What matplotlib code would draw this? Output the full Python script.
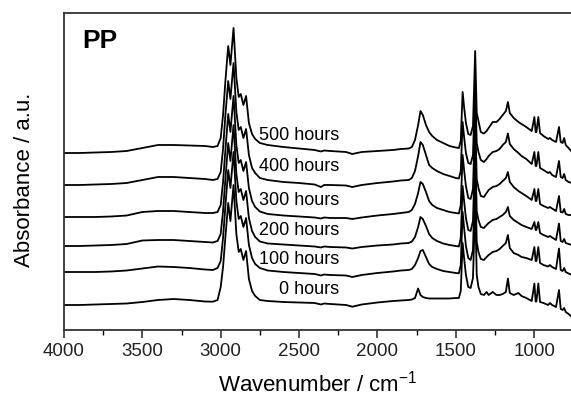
import numpy as np
import matplotlib
matplotlib.use("Agg")
import matplotlib.pyplot as plt
from matplotlib.ticker import MultipleLocator, NullLocator

plt.rcParams['font.family'] = ['Liberation Sans', 'DejaVu Sans']
plt.rcParams['mathtext.fontset'] = 'custom'
plt.rcParams['mathtext.rm'] = 'Liberation Sans'
plt.rcParams['mathtext.it'] = 'Liberation Sans:italic'

# wavenumber grid (cm-1), shared by all spectra
wavenumber = [4000, 3900, 3800, 3700, 3600, 3500, 3400, 3300, 3200, 3100, 3050,
              3020, 3000, 2985, 2970, 2952, 2938, 2918, 2900, 2885, 2872, 2855, 2838, 2820, 2800, 2780, 2750,
              2700, 2600, 2500, 2400, 2360, 2340, 2300, 2200, 2160, 2100, 2000, 1900, 1850, 1800,
              1780, 1760, 1740, 1725, 1710, 1690, 1670, 1650, 1620, 1580, 1540, 1500, 1480,
              1468, 1456, 1446, 1435, 1420, 1405, 1390, 1376, 1366, 1355, 1340, 1320,
              1303, 1290, 1264, 1240, 1220, 1200, 1180, 1167, 1155, 1130, 1100, 1080, 1050, 1015,
              998, 990, 985, 973, 962, 940, 910, 899, 885, 860, 841, 830, 818, 808, 798, 780, 758]

# absorbance (a.u.), relative to each spectrum's value at 4000 cm-1
abs_0h = [0, 0, 0.5, 1, 1.5, 3, 5, 6, 5, 3.5, 3.3,
          5, 18, 38, 68, 102, 84, 120, 71, 53, 56, 45, 54, 26, 14, 9, 5,
          4, 3, 2.5, 2, 0.5, 1.5, 1, 0, -1.7, 0.5, 2.5, 4, 4.5, 5,
          5.5, 7, 16.5, 10, 8, 7, 6.5, 6.5, 6.5, 6.5, 6.5, 7, 7,
          14, 62, 46, 30, 18, 17, 27, 100, 30, 18, 11, 10,
          13, 10, 13, 10, 10, 11, 13, 26.5, 12, 10, 12, 9, 7, 4,
          21.5, 3.5, 3.5, 21.5, 3, 2, 0, 2, 0, -2, 15, -4, -5, -3, -7, -9, -12]
abs_100h = [0, 0, 0, 0.5, 1.5, 3.5, 5.5, 5, 4, 2.5, 2,
            4, 11, 34, 66, 102, 84, 120, 71, 53, 56, 45, 54, 27, 14, 8, 4,
            1.5, 0, -1, -2, -3.5, -2.5, -3, -3.5, -5, -3, -1, 0.5, 1.5, 2,
            3, 7, 14, 21, 22, 15, 8, 5, 3, 1, 0, -1, -1.3,
            7, 60, 43, 26, 14, 12, 22, 100, 30, 20, 13, 12,
            15, 17, 20, 21, 23, 26, 29, 37, 24, 19, 17, 15, 14, 12,
            25, 11, 11, 25, 9, 7, 5.5, 7, 5, 3, 23.5, 2, 1, 4, 0, -1.5, -3]
abs_200h = [0, 0, 0.5, 1, 2, 5.5, 6, 6, 5, 4, 3.5,
            5, 12, 35, 67, 103, 85, 121, 72, 54, 57, 46, 55, 28, 15, 9, 4.5,
            2.5, 1.5, 0.5, -0.5, -1.5, -0.5, -1, -1.5, -2.5, -1, 0.5, 1.5, 2.5, 3,
            4.5, 9, 19, 29, 27, 20, 12, 8, 5, 2.5, 1, 0, -0.5,
            8, 60, 44, 28, 16, 15, 25, 100, 35, 26, 19, 18,
            21, 23, 26, 27, 29, 31, 34, 39, 30, 26, 23, 21, 19, 17,
            24, 16, 16, 24, 13, 11, 9, 10, 8.5, 6, 22.5, 5, 4, 7, 3, 2, 1]
abs_300h = [0, 0, 0, 0.5, 1.5, 5, 6, 6, 5, 4, 4,
            5, 12, 35, 67, 103, 85, 121, 72, 54, 57, 46, 55, 29, 16, 10, 5.5,
            3, 1.5, 0.5, -0.5, -1.5, -0.5, -1, -1, -2, -0.5, 1.5, 3, 4, 5,
            7, 13, 24, 35, 33, 25, 16, 12, 9, 7, 5, 4, 3.5,
            12, 62, 46, 31, 19, 18, 28, 101, 38, 29, 21, 20,
            24, 27, 30, 31, 33, 36, 39, 45, 35, 30, 26, 24, 21, 17,
            28, 16, 16, 28, 13, 11, 9, 10, 8.5, 6, 21, 5, 4.5, 8, 3, 2, 2]
abs_400h = [0, 0, 0.5, 1, 2, 5, 8, 8, 7, 6, 5,
            6, 13, 36, 70, 104, 86, 122, 73, 55, 58, 47, 56, 30, 17, 12, 7,
            5, 3, 2, 0.5, -2, 0, 0, -0.5, -2, 0, 2, 3.5, 4.5, 5,
            7, 14, 29, 43, 40, 30, 20, 17, 14, 11, 9, 7, 6.5,
            14, 63, 47, 32, 22, 21, 30, 102, 42, 33, 25, 23,
            26, 29, 33, 34, 36, 40, 43, 51.5, 41, 36, 32, 29, 26, 21,
            33, 19, 19, 33, 17, 15, 12, 13, 10, 8, 24, 8, 7, 11, 5, 3, 2]
abs_500h = [0, 0, 0.5, 1, 2, 5, 8, 8, 7.5, 7, 6,
            7, 15, 38, 72, 107, 88, 125, 75, 56, 59, 48, 57, 30, 19, 14, 10,
            8, 6, 4.5, 3, 1.5, 2.5, 2, 1, -1, 1, 2, 3, 4, 4.5,
            6, 13, 28, 42, 38, 28, 21, 17, 13, 10, 7, 5.5, 5,
            12, 61, 45, 30, 19, 18, 27, 102, 40, 32, 21, 19.5,
            22, 25, 31, 31, 34, 38, 42, 51, 40, 35, 31, 29, 26, 22,
            36, 21, 21, 36, 20, 17, 14, 15, 13, 11, 26, 11, 10, 15, 8, 5, 1]

labels = ['0 hours', '100 hours', '200 hours', '300 hours', '400 hours', '500 hours']
spectra = [abs_0h, abs_100h, abs_200h, abs_300h, abs_400h, abs_500h]
offsets = [25, 58, 84, 113, 145, 177]      # vertical stacking offsets
label_y = [40, 70, 100, 130, 164, 195]

fig = plt.figure(figsize=(5.71, 4.01), dpi=100)
ax = fig.add_axes([64 / 571, 71 / 401, 508 / 571, 317 / 401])

wn = np.array(wavenumber)
for spec, off in zip(spectra, offsets):
    ax.plot(wn, np.array(spec) + off, color='black', lw=1.3)

for lab, ly in zip(labels, label_y):
    ax.text(2245, ly, lab, ha='right', va='center', fontsize=13)

ax.text(0.035, 0.95, 'PP', transform=ax.transAxes, fontsize=19,
        fontweight='bold', ha='left', va='top')

ax.set_xlim(4000, 758)
ax.set_ylim(0, 317)
ax.xaxis.set_major_locator(MultipleLocator(500))
ax.xaxis.set_minor_locator(MultipleLocator(250))
ax.yaxis.set_major_locator(NullLocator())
ax.tick_params(axis='x', which='major', direction='out', length=6, width=1.1,
               labelsize=13.5, pad=3, colors='#222222')
ax.tick_params(axis='x', which='minor', direction='out', length=3.5, width=1.0)
for s in ax.spines.values():
    s.set_linewidth(1.3)
    s.set_color('#333333')

ax.set_xlabel('Wavenumber / cm$^{-1}$', fontsize=16, labelpad=8)
ax.set_ylabel('Absorbance / a.u.', fontsize=16)
ax.yaxis.set_label_coords(-0.058, 0.475)

fig.savefig('out.png', dpi=100)
